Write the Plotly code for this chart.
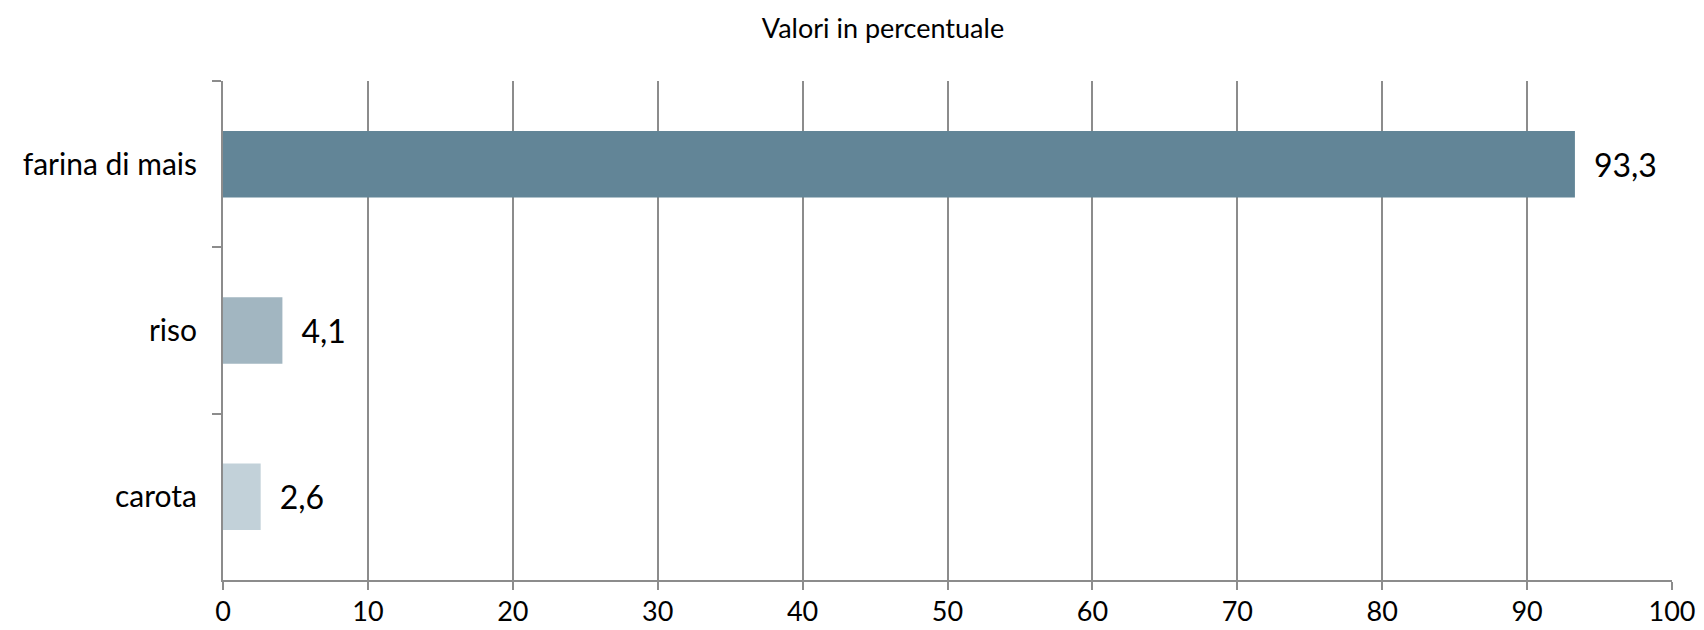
import plotly.graph_objects as go

categories = ["farina di mais", "riso", "carota"]
values = [93.3, 4.1, 2.6]
colors = ["#628597", "#a2b6c1", "#c2d1d9"]
title_text = "Valori in percentuale"
x_ticks = list(range(0, 101, 10))

labels = ["\u2002" + f"{v:.1f}".replace(".", ",") for v in values]

fig = go.Figure(
    go.Bar(
        x=values,
        y=categories,
        orientation="h",
        marker=dict(color=colors, line=dict(width=0)),
        text=labels,
        textposition="outside",
        textfont=dict(size=32, color="#000000", family="Lato"),
        cliponaxis=False,
        width=0.4,
    )
)

fig.update_layout(
    width=1704,
    height=630,
    paper_bgcolor="white",
    plot_bgcolor="white",
    margin=dict(l=215, r=40, t=73, b=58),
    font=dict(family="Lato", color="#000000"),
    title=dict(
        text=title_text,
        x=0.5135,
        xref="container",
        y=0.968,
        yref="container",
        xanchor="center",
        yanchor="middle",
        font=dict(size=27, family="Lato", color="#000000"),
    ),
    showlegend=False,
    xaxis=dict(
        range=[0, 100],
        tickvals=x_ticks,
        ticktext=[str(t) for t in x_ticks],
        showgrid=True,
        gridcolor="#8c8c8c",
        gridwidth=2,
        showline=True,
        linecolor="#8c8c8c",
        linewidth=2,
        ticks="outside",
        ticklen=8,
        tickwidth=2,
        tickcolor="#8c8c8c",
        tickfont=dict(size=27, family="Lato"),
        ticklabelstandoff=-1,
        zeroline=False,
        fixedrange=True,
    ),
    yaxis=dict(
        categoryorder="array",
        categoryarray=categories,
        autorange="reversed",
        showgrid=False,
        showline=True,
        linecolor="#8c8c8c",
        linewidth=2,
        ticks="outside",
        tickson="boundaries",
        ticklen=9,
        tickwidth=2,
        tickcolor="#8c8c8c",
        tickfont=dict(size=30, family="Lato"),
        ticklabelstandoff=18,
        fixedrange=True,
    ),
)

fig.write_html("out.html")
